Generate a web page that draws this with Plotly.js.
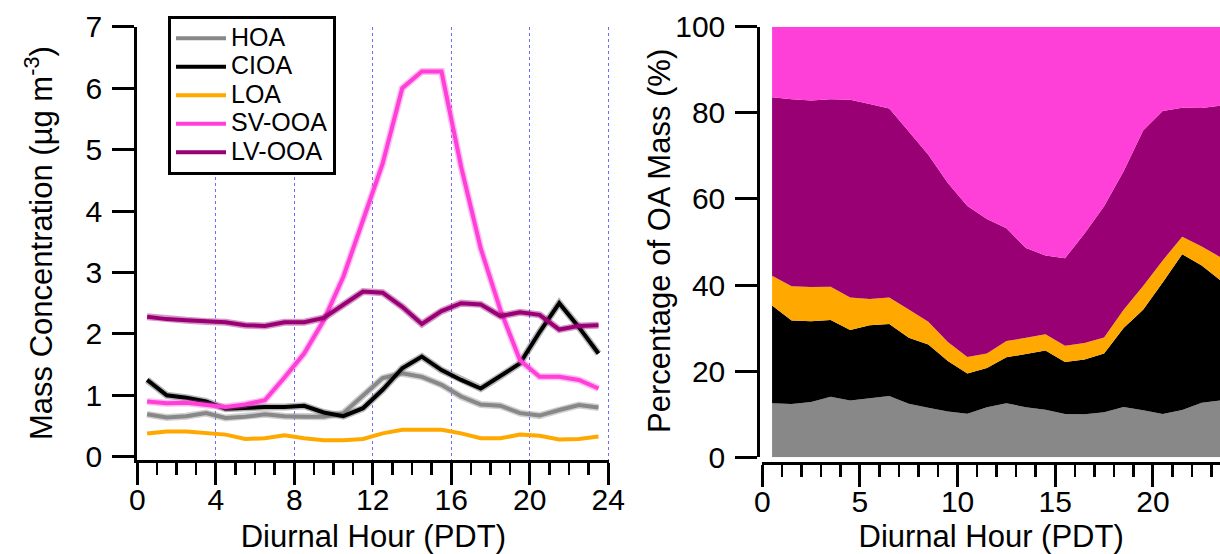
<!DOCTYPE html>
<html>
<head>
<meta charset="utf-8">
<script src="https://cdn.plot.ly/plotly-3.0.1.min.js"></script>
<style>
html,body{margin:0;padding:0;background:#ffffff;}
#chart{width:1220px;height:554px;}
</style>
</head>
<body>
<div id="chart"></div>
<script>
// Diurnal hour (bin centres, PDT)
const hours = [0.5,1.5,2.5,3.5,4.5,5.5,6.5,7.5,8.5,9.5,10.5,11.5,12.5,13.5,14.5,15.5,16.5,17.5,18.5,19.5,20.5,21.5,22.5,23.5];
// Mass concentrations (ug m-3)
const HOA   = [0.69,0.64,0.66,0.71,0.63,0.65,0.69,0.66,0.65,0.65,0.71,1.00,1.28,1.36,1.30,1.17,0.98,0.85,0.83,0.71,0.67,0.76,0.84,0.80];
const CIOA  = [1.25,1.00,0.96,0.90,0.78,0.80,0.81,0.81,0.83,0.72,0.66,0.79,1.09,1.44,1.63,1.41,1.25,1.11,1.31,1.52,2.03,2.50,2.11,1.68];
const LOA   = [0.38,0.41,0.41,0.39,0.36,0.29,0.30,0.35,0.30,0.27,0.27,0.29,0.38,0.44,0.44,0.44,0.38,0.30,0.30,0.36,0.34,0.28,0.29,0.33];
const SVOOA = [0.90,0.87,0.88,0.85,0.81,0.85,0.92,1.29,1.68,2.22,2.93,3.85,4.77,6.00,6.27,6.27,4.72,3.39,2.39,1.57,1.30,1.30,1.25,1.11];
const LVOOA = [2.28,2.24,2.22,2.20,2.19,2.14,2.13,2.19,2.19,2.26,2.47,2.69,2.67,2.44,2.16,2.37,2.50,2.48,2.29,2.35,2.31,2.07,2.13,2.14];

const names  = ['HOA','CIOA','LOA','SV-OOA','LV-OOA'];
const series = [HOA, CIOA, LOA, SVOOA, LVOOA];
const colors = ['#888888','#000000','#FFA800','#FF40D8','#990073'];
const bands  = ['rgba(150,150,150,0.45)','rgba(110,110,110,0.5)',null,'rgba(255,64,216,0.35)','rgba(153,0,115,0.4)'];

const FONT = 'Liberation Sans, Arial, sans-serif';
const traces = [];

// Left panel: diurnal lines
series.forEach((s, k) => {
  if (bands[k]) {
    traces.push({x: hours, y: s, type: 'scatter', mode: 'lines', xaxis: 'x', yaxis: 'y',
      line: {color: bands[k], width: 7}, showlegend: false, hoverinfo: 'skip'});
  }
  traces.push({x: hours, y: s, type: 'scatter', mode: 'lines', xaxis: 'x', yaxis: 'y',
    name: '<span style="font-size:25px">' + names[k] + '</span>',
    line: {color: colors[k], width: 4}});
});

// Right panel: stacked percentage (bottom to top)
const stackOrder = [0, 1, 2, 4, 3];
stackOrder.forEach((k, j) => {
  const t = {x: hours, y: series[k], type: 'scatter', mode: 'none', xaxis: 'x2', yaxis: 'y2',
    stackgroup: 'pct', fillcolor: colors[k], showlegend: false, name: names[k]};
  if (j === 0) t.groupnorm = 'percent';
  traces.push(t);
});

const W = 1220, H = 554;
const axisCommon = {
  showline: true, linecolor: '#000', linewidth: 3, mirror: false,
  ticks: 'outside', ticklen: 22, tickwidth: 3, tickcolor: '#000',
  tickfont: {family: FONT, size: 30, color: '#000'},
  zeroline: false, showgrid: false, fixedrange: true
};
const titleFont = {family: FONT, size: 31, color: '#000'};

const layout = {
  width: W, height: H,
  margin: {l: 0, r: 0, t: 0, b: 0, pad: 0},
  paper_bgcolor: '#fff', plot_bgcolor: 'rgba(0,0,0,0)',
  font: {family: FONT, color: '#000'},
  showlegend: true,
  legend: {
    x: 168 / W, y: 1 - 16 / H, xanchor: 'left', yanchor: 'top',
    traceorder: 'normal',
    bgcolor: '#fff', bordercolor: '#000', borderwidth: 3,
    font: {family: FONT, size: 19.6, color: '#000'},
    itemwidth: 50, tracegroupgap: 0
  },
  xaxis: Object.assign({}, axisCommon, {
    domain: [137.3 / W, (608.3 + 0.06 * 19.625) / W], range: [0, 24.06], anchor: 'y',
    tick0: 0, dtick: 4,
    showgrid: true, gridcolor: '#6b6bff', gridwidth: 1, griddash: 'dot',
    minor: {dtick: 1, ticks: 'outside', ticklen: 12, tickwidth: 2.5, tickcolor: '#000', showgrid: false},
    ticklabelstandoff: -11,
    title: {text: 'Diurnal Hour (PDT)', font: titleFont, standoff: 20}
  }),
  yaxis: Object.assign({}, axisCommon, {
    domain: [(H - 459.5) / H, (H - 26.7) / H], range: [-0.045, 7], anchor: 'x',
    tick0: 0, dtick: 1, ticklabelstandoff: 4,
    title: {text: 'Mass Concentration (µg m<sup>-3</sup>)', font: titleFont, standoff: 24}
  }),
  xaxis2: Object.assign({}, axisCommon, {
    domain: [762.3 / W, 1], range: [0, (W - 762.3) / 19.53], anchor: 'free', position: (H - 463.3) / H,
    tick0: 0, dtick: 5,
    minor: {dtick: 1, ticks: 'outside', ticklen: 12, tickwidth: 2.5, tickcolor: '#000', showgrid: false},
    ticklabelstandoff: -11,
    title: {text: 'Diurnal Hour (PDT)', font: titleFont, standoff: 20}
  }),
  yaxis2: Object.assign({}, axisCommon, {
    domain: [(H - 457.3) / H, (H - 26.7) / H], range: [0, 100], anchor: 'free', position: 758.3 / W,
    tick0: 0, dtick: 20, ticklabelstandoff: 4
  }),
  annotations: [{
    text: 'Percentage of OA Mass (%)', xref: 'paper', yref: 'paper',
    x: 660 / W, y: 1 - 241 / H, xanchor: 'center', yanchor: 'middle',
    textangle: -90, showarrow: false, font: titleFont
  }]
};

Plotly.newPlot('chart', traces, layout, {staticPlot: true, displayModeBar: false});
</script>
</body>
</html>
